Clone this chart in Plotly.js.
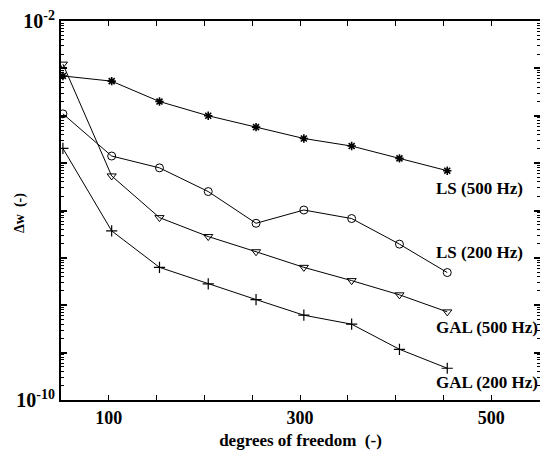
<!DOCTYPE html>
<html>
<head>
<meta charset="utf-8">
<script src="https://cdn.plot.ly/plotly-3.0.1.min.js"></script>
<style>html,body{margin:0;padding:0;background:#fff;}#chart{width:540px;height:453px;}</style>
</head>
<body>
<div id="chart"></div>
<script>
// degrees of freedom
const dof = [52, 103, 153, 204, 254, 304, 354, 404, 454];
// log10 of Δw for each series
const lsHigh  = [-3.16, -3.27, -3.70, -4.00, -4.24, -4.48, -4.64, -4.90, -5.16];
const lsLow   = [-3.96, -4.85, -5.10, -5.60, -6.27, -5.99, -6.17, -6.71, -7.31];
const galHigh = [-2.91, -5.27, -6.15, -6.55, -6.87, -7.20, -7.48, -7.78, -8.14];
const galLow  = [-4.69, -6.43, -7.20, -7.55, -7.88, -8.21, -8.40, -8.93, -9.33];
const seriesNames = ["LS (500 Hz)", "LS (200 Hz)", "GAL (500 Hz)", "GAL (200 Hz)"];
const xTickVals = [100, 300, 500];
const xTickText = ["100", "300", "500"];
const yTickExp = [-10, -2];
const yTickText = ["<b>10<sup>-10</sup></b>", "<b>10<sup>-2</sup></b>"];
const yTitle = "Δw  (-)";
// label anchor positions (log10 y)
const labelY = [-5.53, -6.89, -8.46, -9.62];

const toVal = a => a.map(e => Math.pow(10, e));
const symbols = ["asterisk-open", "circle-open", "triangle-down-open", "cross-thin-open"];
const sizes = [7, 8, 8, 8];
const mwidth = [1.6, 1, 1, 1.2];
const data = [lsHigh, lsLow, galHigh, galLow].map((s, i) => ({
  x: dof, y: toVal(s), type: "scatter", mode: "lines+markers",
  name: seriesNames[i],
  line: {color: "black", width: 1},
  marker: {symbol: symbols[i], size: sizes[i], color: "black", line: {color: "black", width: mwidth[i]}}
}));

const font = {family: "Liberation Serif, Times New Roman, serif", color: "black", weight: "bold"};
const f = s => Object.assign({size: s}, font);
const annotations = seriesNames.map((n, i) => ({
  text: n, x: 440, y: labelY[i], xref: "x", yref: "y",
  xanchor: "left", yanchor: "middle", showarrow: false,
  font: f(17)
}));
annotations.push({text: yTitle, xref: "paper", yref: "paper", x: -0.086, y: 0.493,
  xanchor: "center", yanchor: "middle", textangle: -90, showarrow: false, font: f(14)});
const layout = {
  width: 540, height: 453,
  margin: {l: 61, r: 0, t: 21, b: 53},
  paper_bgcolor: "white", plot_bgcolor: "white",
  showlegend: false,
  font: f(16),
  xaxis: {
    range: [50, 551], tickmode: "array", tickvals: xTickVals, ticktext: xTickText,
    ticks: "inside", ticklen: 5, tickwidth: 1, tickcolor: "black",
    minor: {tick0: 0, dtick: 50, ticks: "inside", ticklen: 5, tickwidth: 1, tickcolor: "black", showgrid: false},
    showline: true, linewidth: 2, linecolor: "black", mirror: "allticks",
    showgrid: false, zeroline: false,
    tickfont: f(18),
    title: {text: "degrees of freedom  (-)", font: f(17), standoff: 8}
  },
  yaxis: {
    type: "log", range: [-10, -2], tickmode: "array",
    tickvals: yTickExp.map(e => Math.pow(10, e)), ticktext: yTickText,
    ticks: "inside", ticklen: 6, tickwidth: 2, tickcolor: "black",
    minor: {dtick: "D1", ticks: "inside", ticklen: 3, tickwidth: 1, tickcolor: "black", showgrid: false},
    showline: true, linewidth: 2, linecolor: "black", mirror: "allticks",
    showgrid: false, zeroline: false,
    tickfont: f(20)
  },
  yaxis2: {
    type: "log", range: [-10, -2], overlaying: "y", side: "left", dtick: 1,
    ticks: "inside", ticklen: 6, tickwidth: 2, tickcolor: "black",
    showticklabels: false, showline: false, mirror: "allticks",
    showgrid: false, zeroline: false
  },
  annotations: annotations
};
data.push({x: [dof[0]], y: [Math.pow(10, lsHigh[0])], yaxis: "y2", type: "scatter", mode: "markers",
  marker: {opacity: 0}, hoverinfo: "skip", showlegend: false});
Plotly.newPlot("chart", data, layout, {staticPlot: true, displayModeBar: false});
</script>
</body>
</html>
